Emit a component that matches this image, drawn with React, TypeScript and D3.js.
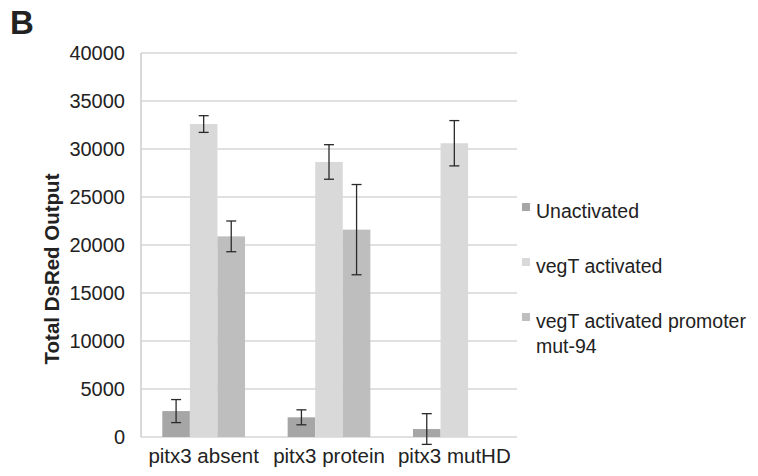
import * as d3 from "d3";

const categories = ["pitx3 absent", "pitx3 protein", "pitx3 mutHD"];
const seriesNames = ["Unactivated", "vegT activated", "vegT activated promoter mut-94"];
const seriesColors = ["#a6a6a6", "#d9d9d9", "#bebebe"];
const unactivated = [2700, 2050, 830];
const unactivatedErr = [1200, 780, 1600];
const vegT = [32600, 28650, 30600];
const vegTErr = [870, 1800, 2360];
const mut94: (number | null)[] = [20900, 21600, null];
const mut94Err: (number | null)[] = [1600, 4700, null];
const yTicks = [0, 5000, 10000, 15000, 20000, 25000, 30000, 35000, 40000];

const W = 758;
const H = 476;
const PLOT = { left: 141, right: 517, top: 53, bottom: 437 };
const FONT = "'Liberation Sans', Arial, Helvetica, sans-serif";

export default function App() {
  const x = d3
    .scaleBand<string>()
    .domain(categories)
    .range([PLOT.left, PLOT.right])
    .paddingInner(0.34)
    .paddingOuter(0.17);
  const xs = d3
    .scaleBand<number>()
    .domain([0, 1, 2])
    .range([0, x.bandwidth()]);
  const y = d3.scaleLinear().domain([0, 40000]).range([PLOT.bottom, PLOT.top]);

  const values = [unactivated, vegT, mut94];
  const errs = [unactivatedErr, vegTErr, mut94Err];

  const bars: { cx: number; s: number; v: number; e: number }[] = [];
  categories.forEach((c, ci) => {
    values.forEach((vals, s) => {
      const v = vals[ci];
      const e = errs[s][ci];
      if (v == null) return;
      bars.push({ cx: (x(c) ?? 0) + (xs(s) ?? 0), s, v, e: e ?? 0 });
    });
  });

  const legendRows = [
    { name: "Unactivated", lines: ["Unactivated"], y: 218 },
    { name: "vegT activated", lines: ["vegT activated"], y: 273 },
    { name: seriesNames[2], lines: ["vegT activated promoter", "mut-94"], y: 328 },
  ];

  return (
    <svg
      width={W}
      height={H}
      style={{ position: "absolute", left: 0, top: 0, background: "#fff" }}
      fontFamily={FONT}
    >
      <text x={10} y={34} fontSize={33} fontWeight="bold" fill="#222">
        B
      </text>

      {/* gridlines */}
      {yTicks.map((t) => (
        <line
          key={t}
          x1={PLOT.left}
          x2={PLOT.right}
          y1={y(t)}
          y2={y(t)}
          stroke="#d6d6d6"
          strokeWidth={1.6}
        />
      ))}
      <line
        x1={PLOT.left}
        x2={PLOT.left}
        y1={PLOT.top}
        y2={PLOT.bottom}
        stroke="#d0d0d0"
        strokeWidth={1.6}
      />

      {/* y tick labels */}
      {yTicks.map((t) => (
        <text
          key={t}
          x={125}
          y={y(t) + 7}
          textAnchor="end"
          fontSize={20}
          fill="#222"
        >
          {t}
        </text>
      ))}

      <text
        transform={`translate(59, ${(PLOT.top + PLOT.bottom) / 2 + 24}) rotate(-90)`}
        textAnchor="middle"
        fontSize={20.5}
        fontWeight="bold"
        fill="#222"
      >
        Total DsRed Output
      </text>

      {/* bars */}
      {bars.map((b, i) => (
        <rect
          key={i}
          x={b.cx}
          y={y(b.v)}
          width={xs.bandwidth()}
          height={PLOT.bottom - y(b.v)}
          fill={seriesColors[b.s]}
        />
      ))}

      {/* error bars */}
      {bars.map((b, i) => {
        const mx = b.cx + xs.bandwidth() / 2;
        const y1 = y(b.v + b.e);
        const y2 = y(b.v - b.e);
        return (
          <g key={i} stroke="#2a2a2a" strokeWidth={1.3}>
            <line x1={mx} x2={mx} y1={y1} y2={y2} />
            <line x1={mx - 5} x2={mx + 5} y1={y1} y2={y1} />
            <line x1={mx - 5} x2={mx + 5} y1={y2} y2={y2} />
          </g>
        );
      })}

      {/* category labels */}
      {categories.map((c) => (
        <text
          key={c}
          x={(x(c) ?? 0) + x.bandwidth() / 2}
          y={463}
          textAnchor="middle"
          fontSize={20.5}
          fill="#222"
        >
          {c}
        </text>
      ))}

      {/* legend */}
      {legendRows.map((r, i) => (
        <g key={r.name}>
          <rect x={522} y={r.y - 15} width={8} height={8} fill={seriesColors[i]} />
          {r.lines.map((ln, j) => (
            <text key={ln} x={536} y={r.y + j * 25} fontSize={19.5} fill="#222">
              {ln}
            </text>
          ))}
        </g>
      ))}
    </svg>
  );
}
